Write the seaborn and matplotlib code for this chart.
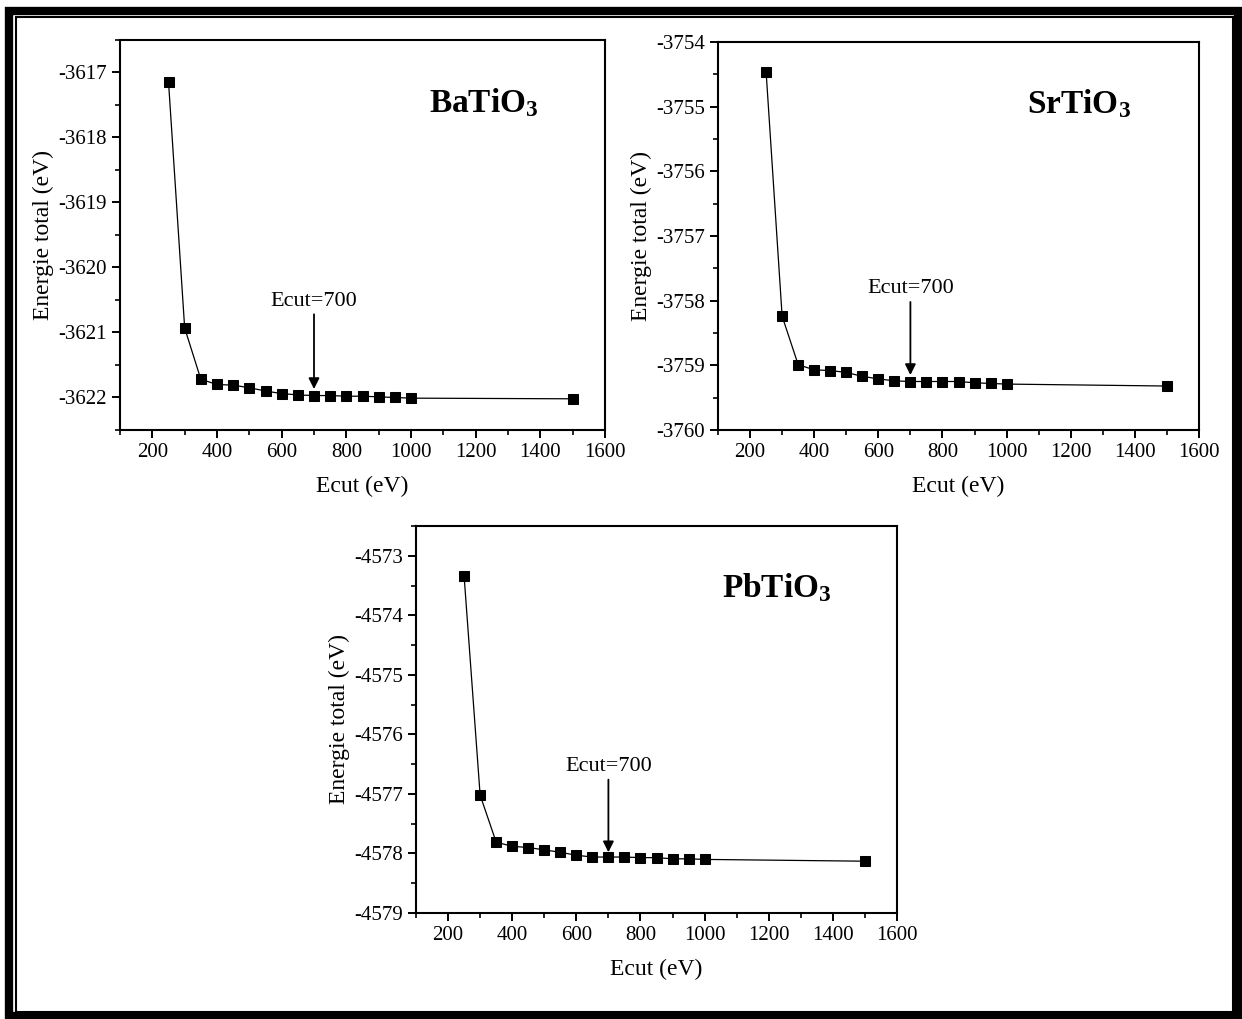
import matplotlib
matplotlib.use("Agg")
import matplotlib.pyplot as plt
from matplotlib.patches import Rectangle
from matplotlib.ticker import MultipleLocator, FuncFormatter
import seaborn as sns
import pandas as pd

# Plane-wave cutoff energies (eV)
ecut = [250, 300, 350, 400, 450, 500, 550, 600, 650, 700,
        750, 800, 850, 900, 950, 1000, 1500]

# Total energies (eV) for each perovskite
e_batio3 = [-3617.14, -3620.93, -3621.72, -3621.80, -3621.81, -3621.85,
            -3621.90, -3621.94, -3621.96, -3621.97, -3621.97, -3621.98,
            -3621.98, -3621.99, -3622.00, -3622.01, -3622.02]
e_srtio3 = [-3754.46, -3758.24, -3758.99, -3759.07, -3759.08, -3759.11,
            -3759.17, -3759.21, -3759.24, -3759.25, -3759.25, -3759.25,
            -3759.25, -3759.27, -3759.28, -3759.29, -3759.32]
e_pbtio3 = [-4573.34, -4577.02, -4577.81, -4577.88, -4577.90, -4577.94,
            -4577.98, -4578.03, -4578.06, -4578.06, -4578.06, -4578.07,
            -4578.07, -4578.09, -4578.09, -4578.10, -4578.13]

compounds = [r"$\mathbf{BaTiO_3}$", r"$\mathbf{SrTiO_3}$", r"$\mathbf{PbTiO_3}$"]
ylims = [(-3622.5, -3616.5), (-3760.0, -3754.0), (-4579.0, -4572.5)]
chosen_cut = 700
annot_text = "Ecut=700"
# (label centre y, arrow start y, arrow tip y) in data units
annot_y = [(-3620.52, -3620.72, -3621.87),
           (-3757.81, -3758.02, -3759.15),
           (-4576.54, -4576.76, -4577.98)]

sns.set_theme(style="ticks")
plt.rcParams["font.family"] = ["Liberation Serif", "DejaVu Serif"]
plt.rcParams["mathtext.fontset"] = "custom"
plt.rcParams["mathtext.rm"] = "Liberation Serif"
plt.rcParams["mathtext.bf"] = "Liberation Serif:bold"
plt.rcParams["axes.unicode_minus"] = False

W, H = 1242, 1019
fig = plt.figure(figsize=(W / 100, H / 100), dpi=100)
fig.patch.set_facecolor("white")

def px_rect(left, top, right, bottom):
    return [left / W, 1 - bottom / H, (right - left) / W, (bottom - top) / H]

boxes = [px_rect(120, 40, 605, 430),
         px_rect(718, 42, 1199, 430),
         px_rect(416, 526, 897, 913)]

series = [e_batio3, e_srtio3, e_pbtio3]
int_fmt = FuncFormatter(lambda v, p: ("-" if v < 0 else "") + f"{abs(v):.0f}")

for box, energies, name, ylim, (ty, ay0, ay1) in zip(boxes, series, compounds, ylims, annot_y):
    ax = fig.add_axes(box)
    df = pd.DataFrame({"Ecut": ecut, "E": energies})
    sns.lineplot(data=df, x="Ecut", y="E", ax=ax, color="black", lw=0.9,
                 marker="s", markersize=6.5, markeredgecolor="black",
                 markerfacecolor="black")
    ax.set_xlim(100, 1600)
    ax.set_ylim(*ylim)
    ax.xaxis.set_major_locator(MultipleLocator(200))
    ax.xaxis.set_minor_locator(MultipleLocator(100))
    ax.yaxis.set_major_locator(MultipleLocator(1))
    ax.yaxis.set_minor_locator(MultipleLocator(0.5))
    ax.yaxis.set_major_formatter(int_fmt)
    ax.tick_params(axis="both", which="major", direction="out", length=6,
                   width=1.4, labelsize=15, color="black", labelcolor="black")
    ax.tick_params(axis="both", which="minor", direction="out", length=3.5,
                   width=1.2, color="black")
    for sp in ax.spines.values():
        sp.set_visible(True)
        sp.set_color("black")
        sp.set_linewidth(1.5)
    ax.set_facecolor("white")
    ax.grid(False)
    ax.set_xlabel("Ecut (eV)", fontsize=17, color="black", labelpad=10)
    ax.set_ylabel("Energie total (eV)", fontsize=17, color="black", labelpad=3)

    ax.text(0.75, 0.84, name, transform=ax.transAxes, fontsize=24,
            ha="center", va="center", color="black")
    ax.text(chosen_cut, ty, annot_text, fontsize=16, ha="center", va="center",
            color="black")
    ax.annotate("", xy=(chosen_cut, ay1), xytext=(chosen_cut, ay0),
                arrowprops=dict(arrowstyle="-|>", color="black", lw=1.3,
                                mutation_scale=16, shrinkA=0, shrinkB=0))

# Double frame around the whole figure
fig.patches.append(Rectangle((9 / W, 1 - 1016 / H), (1238 - 9) / W, (1016 - 10.5) / H,
                             transform=fig.transFigure, fill=False,
                             edgecolor="black", lw=6))
fig.patches.append(Rectangle((16 / W, 1 - 1012 / H), (1233 - 16) / W, (1012 - 17) / H,
                             transform=fig.transFigure, fill=False,
                             edgecolor="black", lw=1.5))

fig.savefig("out.png", dpi=100, facecolor="white")
